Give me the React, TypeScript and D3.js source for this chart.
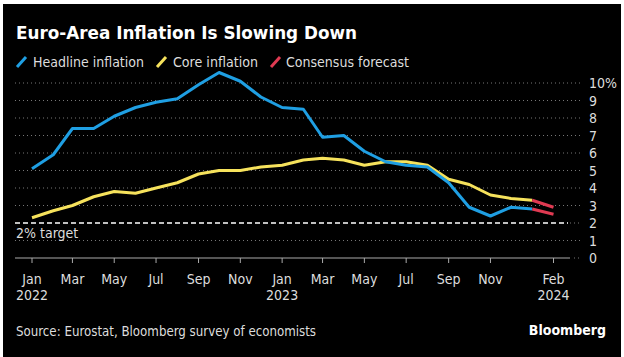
import React from "react";
import * as d3 from "d3";

const months: string[] = [
  "2022-01","2022-02","2022-03","2022-04","2022-05","2022-06","2022-07","2022-08","2022-09","2022-10","2022-11","2022-12",
  "2023-01","2023-02","2023-03","2023-04","2023-05","2023-06","2023-07","2023-08","2023-09","2023-10","2023-11","2023-12",
  "2024-01",
];
const headline: number[] = [5.1,5.9,7.4,7.4,8.1,8.6,8.9,9.1,9.9,10.6,10.1,9.2,8.6,8.5,6.9,7.0,6.1,5.5,5.3,5.2,4.3,2.9,2.4,2.9,2.8];
const core: number[] = [2.3,2.7,3.0,3.5,3.8,3.7,4.0,4.3,4.8,5.0,5.0,5.2,5.3,5.6,5.7,5.6,5.3,5.5,5.5,5.3,4.5,4.2,3.6,3.4,3.3];
const forecastMonths: string[] = ["2024-01","2024-02"];
const headlineForecast: number[] = [2.8, 2.5];
const coreForecast: number[] = [3.3, 2.9];
const yTicks: number[] = [0,1,2,3,4,5,6,7,8,9,10];
const xTicks: { m: string; label: string; year?: string }[] = [
  { m: "2022-01", label: "Jan", year: "2022" },
  { m: "2022-03", label: "Mar" },
  { m: "2022-05", label: "May" },
  { m: "2022-07", label: "Jul" },
  { m: "2022-09", label: "Sep" },
  { m: "2022-11", label: "Nov" },
  { m: "2023-01", label: "Jan", year: "2023" },
  { m: "2023-03", label: "Mar" },
  { m: "2023-05", label: "May" },
  { m: "2023-07", label: "Jul" },
  { m: "2023-09", label: "Sep" },
  { m: "2023-11", label: "Nov" },
  { m: "2024-02", label: "Feb", year: "2024" },
];
const target = 2;

const parse = d3.timeParse("%Y-%m");

const BLUE = "#1f9fe3";
const YELLOW = "#f6e25c";
const RED = "#e03a52";
const FONT = "'DejaVu Sans', sans-serif";

export default function App() {
  const W = 624, H = 357;
  const x = d3.scaleTime()
    .domain([parse("2022-01")!, parse("2024-02")!])
    .range([32, 553.5]);
  const y = d3.scaleLinear().domain([0, 10]).range([258, 83]);

  const line = d3.line<[string, number]>()
    .x((d) => x(parse(d[0])!))
    .y((d) => y(d[1]));

  const hl = line(months.map((m, i) => [m, headline[i]] as [string, number]))!;
  const cl = line(months.map((m, i) => [m, core[i]] as [string, number]))!;
  const hf = line(forecastMonths.map((m, i) => [m, headlineForecast[i]] as [string, number]))!;
  const cf = line(forecastMonths.map((m, i) => [m, coreForecast[i]] as [string, number]))!;

  const gridX0 = 15, gridX1 = 580;

  return (
    <svg width={W} height={H} style={{ position: "absolute", left: 0, top: 0 }}>
      <rect x={0} y={0} width={W} height={H} fill="#fff" />
      <rect x={3} y={4} width={618} height={353} fill="#000" />
      <text x={16} y={39} fill="#fff" fontFamily={FONT} fontWeight="bold" fontSize={17}
        textLength={341} lengthAdjust="spacingAndGlyphs">Euro-Area Inflation Is Slowing Down</text>

      {/* legend */}
      <g fontFamily={FONT} fontSize={14} fill="#ddd" style={{ fontStretch: "condensed" }}>
        <line x1={17} y1={67} x2={26} y2={57} stroke={BLUE} strokeWidth={3} />
        <text x={33} y={67} textLength={111} lengthAdjust="spacingAndGlyphs">Headline inflation</text>
        <line x1={157} y1={67} x2={166} y2={57} stroke={YELLOW} strokeWidth={3} />
        <text x={173} y={67} textLength={85} lengthAdjust="spacingAndGlyphs">Core inflation</text>
        <line x1={271} y1={67} x2={280} y2={57} stroke={RED} strokeWidth={3} />
        <text x={286} y={67} textLength={123} lengthAdjust="spacingAndGlyphs">Consensus forecast</text>
      </g>

      {/* gridlines */}
      {yTicks.filter((t) => t !== 0 && t !== target).map((t) => (
        <line key={t} x1={gridX0} x2={gridX1} y1={y(t)} y2={y(t)} stroke="#777" strokeWidth={1} strokeDasharray="1,3" />
      ))}
      <line x1={gridX0} x2={568} y1={y(target)} y2={y(target)} stroke="#fff" strokeWidth={1.5} strokeDasharray="5,3" />
      <line x1={570} x2={gridX1} y1={y(target)} y2={y(target)} stroke="#777" strokeWidth={1} strokeDasharray="1,3" />
      <line x1={gridX0} x2={570} y1={y(0)} y2={y(0)} stroke="#aaa" strokeWidth={1} />
      <line x1={574} x2={gridX1} y1={y(0)} y2={y(0)} stroke="#777" strokeWidth={1} strokeDasharray="1,3" />

      {/* y labels */}
      <g fontFamily={FONT} fontSize={14} fill="#ddd" style={{ fontStretch: "condensed" }}>
        {yTicks.map((t) => (
          <text key={t} x={589} y={y(t)} dy="0.36em">{t === 10 ? "10%" : String(t)}</text>
        ))}
        <text x={16} y={238}>2% target</text>
      </g>

      {/* x ticks */}
      <g fontFamily={FONT} fontSize={14} fill="#ddd" textAnchor="middle" style={{ fontStretch: "condensed" }}>
        {xTicks.map((t) => {
          const px = x(parse(t.m)!);
          return (
            <g key={t.m}>
              <line x1={px} x2={px} y1={258} y2={263} stroke="#aaa" strokeWidth={1} />
              <text x={px} y={284}>{t.label}</text>
              {t.year && <text x={px} y={300}>{t.year}</text>}
            </g>
          );
        })}
      </g>

      {/* lines */}
      <path d={cl} fill="none" stroke={YELLOW} strokeWidth={3} strokeLinejoin="round" />
      <path d={hl} fill="none" stroke={BLUE} strokeWidth={3} strokeLinejoin="round" />
      <path d={cf} fill="none" stroke={RED} strokeWidth={3} />
      <path d={hf} fill="none" stroke={RED} strokeWidth={3} />

      {/* footer */}
      <text x={16} y={336} fill="#ddd" fontFamily={FONT} fontSize={14} style={{ fontStretch: "condensed" }}
        textLength={300} lengthAdjust="spacingAndGlyphs">Source: Eurostat, Bloomberg survey of economists</text>
      <text x={606} y={335} fill="#fff" fontFamily={FONT} fontWeight="bold" fontSize={14} textAnchor="end"
        style={{ fontStretch: "condensed" }}>Bloomberg</text>
    </svg>
  );
}
